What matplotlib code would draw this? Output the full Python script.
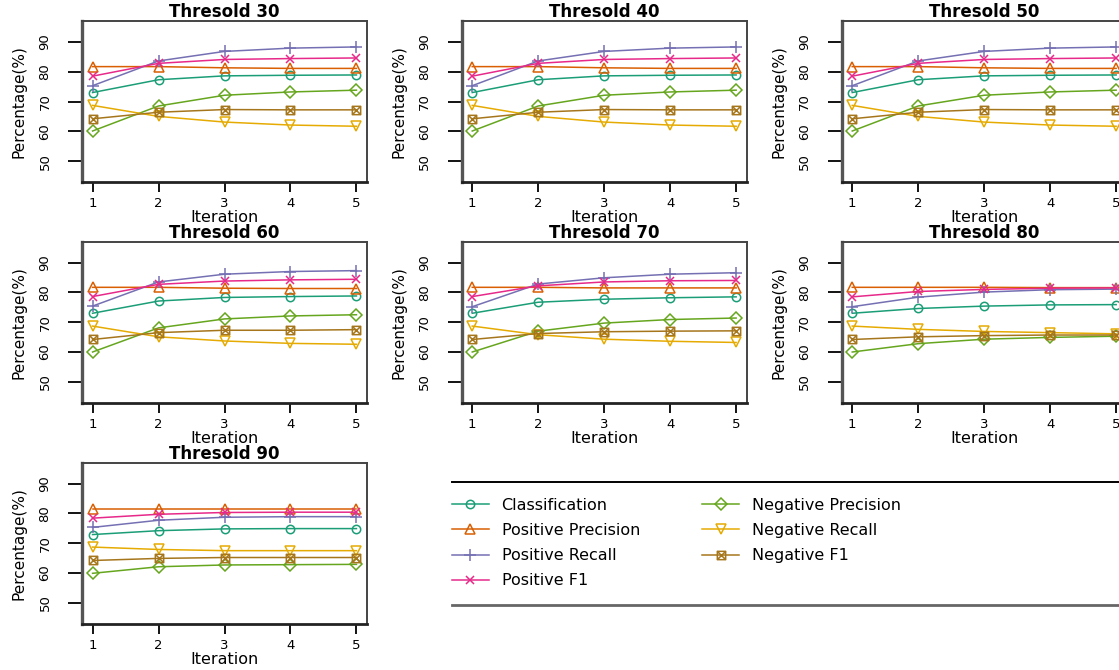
import matplotlib
matplotlib.use("Agg")
import matplotlib.pyplot as plt
from matplotlib.path import Path
from matplotlib.lines import Line2D

iterations = [1, 2, 3, 4, 5]
thresholds = [30, 40, 50, 60, 70, 80, 90]

# one row per threshold (30..90), one value per iteration
classification = [
    [73.0, 77.3, 78.6, 78.8, 78.9],
    [73.0, 77.3, 78.6, 78.8, 78.9],
    [73.0, 77.3, 78.6, 78.8, 78.9],
    [73.0, 77.1, 78.3, 78.6, 78.8],
    [73.0, 76.7, 77.7, 78.2, 78.5],
    [73.0, 74.6, 75.4, 75.8, 75.9],
    [72.9, 74.2, 74.8, 74.9, 74.9],
]
pos_precision = [
    [81.7, 81.7, 81.3, 81.1, 81.1],
    [81.7, 81.7, 81.3, 81.1, 81.1],
    [81.7, 81.7, 81.3, 81.1, 81.1],
    [81.7, 81.7, 81.4, 81.3, 81.3],
    [81.7, 81.7, 81.5, 81.5, 81.5],
    [81.7, 81.7, 81.7, 81.6, 81.6],
    [81.6, 81.6, 81.6, 81.6, 81.6],
]
pos_recall = [
    [75.3, 83.6, 86.8, 87.9, 88.3],
    [75.3, 83.6, 86.8, 87.9, 88.3],
    [75.3, 83.6, 86.8, 87.9, 88.3],
    [75.4, 83.5, 86.1, 87.0, 87.3],
    [75.2, 82.8, 84.9, 86.1, 86.6],
    [75.2, 78.4, 80.1, 80.9, 81.1],
    [75.3, 77.7, 78.7, 78.9, 78.9],
]
pos_f1 = [
    [78.5, 82.8, 84.1, 84.4, 84.6],
    [78.5, 82.8, 84.1, 84.4, 84.6],
    [78.5, 82.8, 84.1, 84.4, 84.6],
    [78.6, 82.7, 83.8, 84.2, 84.4],
    [78.6, 82.2, 83.5, 83.9, 84.0],
    [78.5, 80.3, 81.0, 81.4, 81.5],
    [78.4, 79.7, 80.3, 80.4, 80.4],
]
neg_precision = [
    [60.1, 68.5, 72.1, 73.2, 73.8],
    [60.1, 68.5, 72.1, 73.2, 73.8],
    [60.1, 68.5, 72.1, 73.2, 73.8],
    [60.0, 68.1, 71.1, 72.1, 72.5],
    [60.0, 67.0, 69.7, 70.9, 71.4],
    [60.0, 62.8, 64.3, 64.9, 65.3],
    [59.9, 62.1, 62.7, 62.8, 62.9],
]
neg_recall = [
    [68.7, 65.0, 63.1, 62.1, 61.7],
    [68.7, 65.0, 63.1, 62.1, 61.7],
    [68.7, 65.0, 63.1, 62.1, 61.7],
    [68.7, 65.1, 63.7, 62.9, 62.6],
    [68.7, 65.8, 64.3, 63.6, 63.2],
    [68.7, 67.6, 66.9, 66.5, 66.1],
    [68.7, 67.9, 67.5, 67.5, 67.5],
]
neg_f1 = [
    [64.2, 66.4, 67.3, 67.2, 67.2],
    [64.2, 66.4, 67.3, 67.2, 67.2],
    [64.2, 66.4, 67.3, 67.2, 67.2],
    [64.2, 66.5, 67.3, 67.3, 67.5],
    [64.2, 66.2, 66.8, 67.0, 67.1],
    [64.2, 65.1, 65.5, 65.7, 65.7],
    [64.2, 64.9, 65.2, 65.2, 65.2],
]

labels = ["Classification", "Positive Precision", "Positive Recall", "Positive F1",
          "Negative Precision", "Negative Recall", "Negative F1"]
series = [classification, pos_precision, pos_recall, pos_f1,
          neg_precision, neg_recall, neg_f1]
colors = ["#1B9E77", "#D95F02", "#7570B3", "#E7298A", "#66A61E", "#E6AB02", "#A6761D"]

# square with a cross inside (like R pch 7)
box_x = Path([(-1, -1), (1, -1), (1, 1), (-1, 1), (-1, -1), (-1, -1), (1, 1), (-1, 1), (1, -1)],
             [Path.MOVETO, Path.LINETO, Path.LINETO, Path.LINETO, Path.CLOSEPOLY,
              Path.MOVETO, Path.LINETO, Path.MOVETO, Path.LINETO])
markers = ["o", "^", "+", "x", "D", "v", box_x]
msizes = [6, 7, 8, 6, 6, 7, 6]

W, H = 1119, 670
fig = plt.figure(figsize=(W / 100, H / 100), dpi=100)

col_left = [82, 461.7, 841.7]
row_top = [21, 241.7, 462.7]
ax_w, ax_h = 285, 161

for k, thr in enumerate(thresholds):
    r, c = divmod(k, 3)
    ax = fig.add_axes([col_left[c] / W, 1 - (row_top[r] + ax_h) / H, ax_w / W, ax_h / H])
    for s, lab, col, mk, ms in zip(series, labels, colors, markers, msizes):
        ax.plot(iterations, s[k], color=col, lw=1.1, marker=mk, ms=ms,
                mfc="none", mec=col, mew=1.1, label=lab)
    ax.set_xlim(0.84, 5.16)
    ax.set_ylim(43, 97)
    ax.set_xticks(iterations)
    ax.set_yticks([50, 60, 70, 80, 90])
    ax.tick_params(axis="x", length=7, width=1.3, pad=4, labelsize=9.5)
    ax.tick_params(axis="y", length=10, width=1.3, pad=12, labelsize=9.5, labelrotation=90)
    plt.setp(ax.get_yticklabels(), va="center")
    for side in ["top", "right"]:
        ax.spines[side].set_linewidth(1.4)
        ax.spines[side].set_color("#444444")
    ax.spines["left"].set_linewidth(2.4)
    ax.spines["left"].set_color("#555555")
    ax.spines["bottom"].set_linewidth(2)
    ax.spines["bottom"].set_color("#222222")
    ax.set_title("Thresold %d" % thr, fontsize=12, fontweight="bold", pad=1)
    ax.set_xlabel("Iteration", fontsize=11.5)
    ax.set_ylabel("Percentage(%)", fontsize=11)
    ax.xaxis.set_label_coords(0.5, -0.175)
    ax.yaxis.set_label_coords(-0.193, 0.5)
    if k == 0:
        handles, hlabels = ax.get_legend_handles_labels()

fig.legend(handles, hlabels, loc="upper left", bbox_to_anchor=(452 / W, 1 - 498 / H),
           ncol=2, frameon=False, fontsize=11.5, borderpad=0, borderaxespad=0,
           handlelength=2.3, handletextpad=0.8, columnspacing=3.9, labelspacing=0.63)
fig.add_artist(Line2D([452 / W, 1.0], [1 - 481.7 / H, 1 - 481.7 / H], color="black", lw=1.4))
fig.add_artist(Line2D([452 / W, 1.0], [1 - 605 / H, 1 - 605 / H], color="#666666", lw=2))

fig.savefig("out.png", dpi=100)
